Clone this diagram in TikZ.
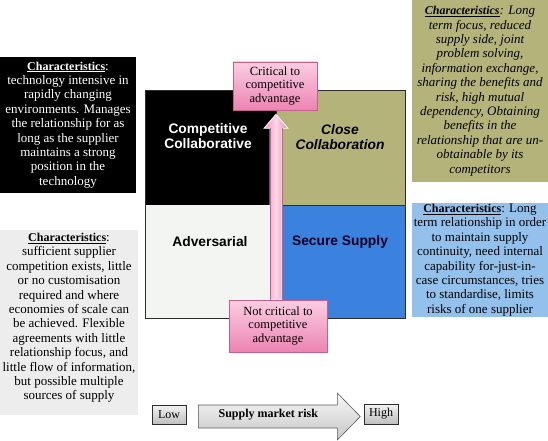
\documentclass[tikz,border=0pt]{standalone}
\usepackage{fontspec}
\setmainfont{Liberation Serif}
\newfontfamily\quadsans{Liberation Sans}
\usetikzlibrary{calc}
\definecolor{olivecell}{RGB}{180,180,122}
\definecolor{bluecell}{RGB}{58,130,222}
\definecolor{bluebox}{RGB}{148,193,236}
\definecolor{greybox}{RGB}{236,237,236}
\definecolor{whitecell}{RGB}{243,245,243}
\definecolor{pinktop}{RGB}{251,206,226}
\definecolor{pinkbot}{RGB}{236,132,178}
\definecolor{pinkedge}{RGB}{196,96,142}
\definecolor{pinkmid}{RGB}{252,214,232}
\definecolor{frame}{RGB}{45,45,45}
\newcommand{\charhead}{\underline{\fontsize{12}{14.4}\selectfont\textbf{Characteristics}}}
\begin{document}
\begin{tikzpicture}[x=1pt,y=-1pt,
  charbox/.style={align=center, inner sep=0pt, font=\fontsize{13}{14.4}\selectfont},
  pinkbox/.style={draw=pinkedge, line width=0.6pt, top color=pinktop, bottom color=pinkbot,
    align=center, inner sep=0pt, font=\fontsize{12.5}{13.5}\selectfont},
  scalebox/.style={draw=frame, line width=0.6pt, top color=white!95!black, bottom color=white!75!black,
    inner sep=0pt, font=\fontsize{12}{14}\selectfont},
  quadlabel/.style={align=center, font=\quadsans\bfseries\fontsize{13.8}{15.5}\selectfont},
  cell/.style={draw=frame, line width=0.5pt}]
\useasboundingbox (0,0) rectangle (548,441);

% side boxes
\node[charbox, fill=black, text=white, minimum width=136pt, minimum height=136pt] (charA) at (68,125)
 {\charhead:\\technology intensive in\\rapidly changing\\environments. Manages\\the relationship for as\\long as the supplier\\maintains a strong\\position in the\\technology};
\node[charbox, fill=olivecell, minimum width=136pt, minimum height=182pt, font=\itshape\fontsize{13}{14.4}\selectfont] (charB) at (480,91)
 {\charhead: Long\\term focus, reduced\\supply side, joint\\problem solving,\\information exchange,\\sharing the benefits and\\risk, high mutual\\dependency, Obtaining\\benefits in the\\relationship that are un-\\obtainable by its\\competitors};
\node[charbox, fill=greybox, minimum width=138pt, minimum height=185pt] (charC) at (69,322.5) {};
\node[charbox] (charCtext) at (69,318)
 {\charhead:\\sufficient supplier\\competition exists, little\\or no customisation\\required and where\\economies of scale can\\be achieved. Flexible\\agreements with little\\relationship focus, and\\little flow of information,\\but possible multiple\\sources of supply};
\node[charbox, fill=bluebox, minimum width=136pt, minimum height=114pt] (charD) at (480,260)
 {\charhead: Long\\term relationship in order\\to maintain supply\\continuity, need internal\\capability for-just-in-\\case circumstances, tries\\to standardise, limits\\risks of one supplier};

% quadrants
\fill[black] (145,90) rectangle (276,205);
\fill[olivecell] (276,90) rectangle (405,205);
\fill[whitecell] (145,205) rectangle (276,318);
\fill[bluecell] (276,205) rectangle (405,318);
\draw[cell] (276,90) rectangle (405,205);
\draw[cell] (276,205) rectangle (405,318);
\draw[cell] (145,90) rectangle (405,318);

\node[quadlabel, text=white] (qCC) at (208,136) {Competitive\\Collaborative};
\node[quadlabel, font=\quadsans\bfseries\itshape\fontsize{13.8}{15.5}\selectfont] (qClose) at (340,137) {Close\\Collaboration};
\node[quadlabel] (qAdv) at (210,242) {Adversarial};
\node[quadlabel, text=black!85!blue] (qSec) at (340,242) {Secure Supply};

% pink boxes
\node[pinkbox, minimum width=84pt, minimum height=48pt] (crit) at (275,86) {Critical to\\competitive\\advantage};
\node[pinkbox, minimum width=98pt, minimum height=52pt] (notcrit) at (278,326) {Not critical to\\competitive\\advantage};

% vertical arrow from notcrit to crit
\path[draw=white, line width=0.8pt, left color=pinkbot!80!pinktop, right color=pinkbot, middle color=pinkmid]
  ($(notcrit.north)+(-8,0)$) -- ($(crit.south)+(-5,18)$) -- ($(crit.south)+(-11,18)$)
  -- ($(crit.south)+(1,4)$) -- ($(crit.south)+(13,18)$) -- ($(crit.south)+(7,18)$)
  -- ($(notcrit.north)+(4,0)$) -- cycle;
\draw[pinkedge, line width=0.6pt] ($(notcrit.north)+(-8,0)$) -- ($(crit.south)+(-5,18)$);
\draw[pinkedge, line width=0.6pt] ($(notcrit.north)+(4,0)$) -- ($(crit.south)+(7,18)$);
\node[pinkbox, minimum width=98pt, minimum height=52pt] (notcrit2) at (278,326) {Not critical to\\competitive\\advantage};

% bottom scale
\node[scalebox, minimum width=34pt, minimum height=19pt] (low) at (169,414.5) {Low};
\node[scalebox, minimum width=34pt, minimum height=20pt] (high) at (381,414) {High};
\coordinate (arrS) at ($(low.east)+(12,2)$);
\path[draw=frame!80, line width=0.6pt, top color=white!97!black, bottom color=white!78!black]
  (arrS) ++(0,-11.5) -- ++(139,0) -- ++(0,-12) -- ($(arrS)+(162,0)$) -- ++(-23,23.5) -- ++(0,-12) -- ++(-139,0) -- cycle;
\node[font=\bfseries\fontsize{12}{14}\selectfont] (risk) at ($(arrS)+(70,-1.5)$) {Supply market risk};
\end{tikzpicture}
\end{document}
